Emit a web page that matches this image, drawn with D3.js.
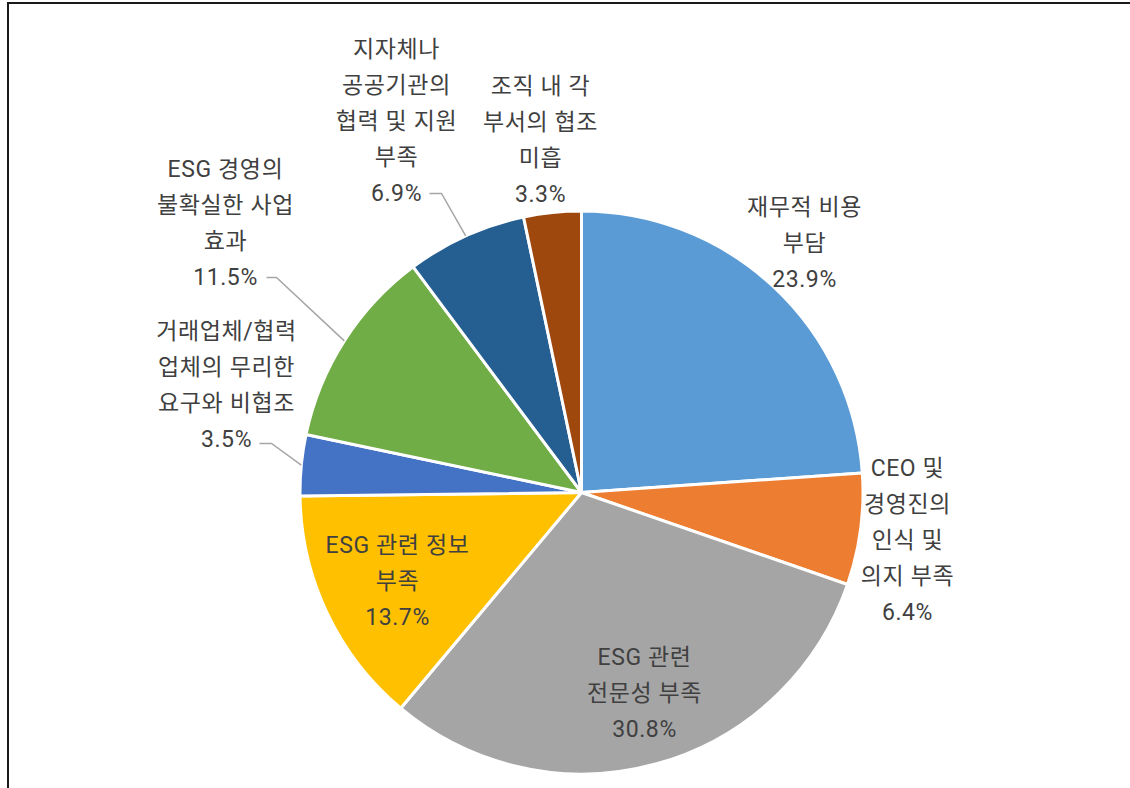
<!DOCTYPE html>
<html>
<head>
<meta charset="utf-8">
<script src="https://cdn.jsdelivr.net/npm/d3@7/dist/d3.min.js"></script>
<style>
  html, body { margin: 0; padding: 0; background: #fff; }
  svg { display: block; }
</style>
</head>
<body>
<svg id="chart" width="1130" height="788"></svg>
<script>
// ---- data ----
const categories = [
  ["재무적 비용", "부담"],
  ["CEO 및", "경영진의", "인식 및", "의지 부족"],
  ["ESG 관련", "전문성 부족"],
  ["ESG 관련 정보", "부족"],
  ["거래업체/협력", "업체의 무리한", "요구와 비협조"],
  ["ESG 경영의", "불확실한 사업", "효과"],
  ["지자체나", "공공기관의", "협력 및 지원", "부족"],
  ["조직 내 각", "부서의 협조", "미흡"]
];
const values = [23.9, 6.4, 30.8, 13.7, 3.5, 11.5, 6.9, 3.3];
const valueLabels = ["23.9%", "6.4%", "30.8%", "13.7%", "3.5%", "11.5%", "6.9%", "3.3%"];
const colors = ["#5B9BD5", "#ED7D31", "#A5A5A5", "#FFC000", "#4472C4", "#70AD47", "#255E91", "#9E480E"];

// ---- layout (label block centres relative to pie centre, leader elbows) ----
const labelOffsets = [[223, -250], [326, 47], [63, 200], [-184, 88], [-355, -108], [-356, -270], [-185, -372], [-41, -353]];
const leaderElbows = [null, null, null, null, [-310, -49], [-305, -215], [-140, -299], null];
const leaderStarts = [null, null, null, null, [-322, -49], [-315, -215], [-152, -299], null];

const W = 1130, H = 788;
const cx = 581.5, cy = 492.5, R = 281.5;
const fontSize = 23, lineH = 36;
const textColor = "#404040";

const svg = d3.select("#chart");

// frame
svg.append("rect")
  .attr("x", 8).attr("y", 3)
  .attr("width", W).attr("height", H)
  .attr("fill", "none")
  .attr("stroke", "#1a1a1a")
  .attr("stroke-width", 2);

const g = svg.append("g").attr("transform", `translate(${cx},${cy})`);

const pie = d3.pie().sort(null).value(d => d).startAngle(0).endAngle(2 * Math.PI);
const arcs = pie(values);
const arc = d3.arc().innerRadius(0).outerRadius(R);

g.selectAll("path.slice")
  .data(arcs)
  .join("path")
  .attr("class", "slice")
  .attr("d", arc)
  .attr("fill", (d, i) => colors[i])
  .attr("stroke", "#fff")
  .attr("stroke-width", 3)
  .attr("stroke-linejoin", "round");

// leader lines
arcs.forEach((d, i) => {
  if (!leaderElbows[i]) return;
  const mid = (d.startAngle + d.endAngle) / 2;
  const px = R * Math.sin(mid), py = -R * Math.cos(mid);
  const line = d3.line();
  g.append("path")
    .attr("d", line([leaderStarts[i], leaderElbows[i], [px, py]]))
    .attr("fill", "none")
    .attr("stroke", "#A6A6A6")
    .attr("stroke-width", 1.5);
});

// labels
arcs.forEach((d, i) => {
  const lines = categories[i].concat([valueLabels[i]]);
  const [ox, oy] = labelOffsets[i];
  const n = lines.length;
  const t = g.append("text")
    .attr("text-anchor", "middle")
    .attr("font-family", "Roboto, 'Noto Sans CJK KR', sans-serif")
    .attr("font-size", fontSize)
    .attr("letter-spacing", "0.6px")
    .attr("fill", textColor);
  lines.forEach((s, j) => {
    t.append("tspan")
      .attr("x", ox)
      .attr("y", oy + (j - (n - 1) / 2) * lineH)
      .attr("dy", "0.35em")
      .text(s);
  });
});
</script>
</body>
</html>
